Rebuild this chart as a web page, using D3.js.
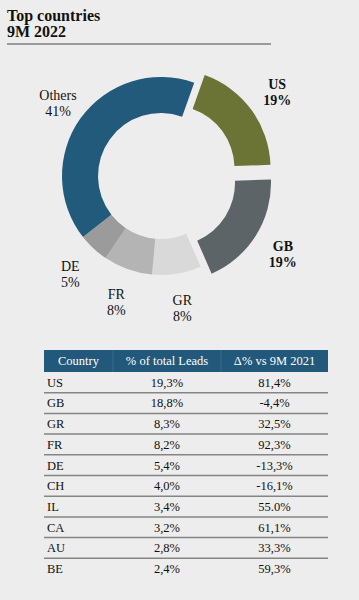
<!DOCTYPE html>
<html><head><meta charset="utf-8">
<script src="https://cdn.jsdelivr.net/npm/d3@7"></script>
<style>
html,body{margin:0;padding:0;background:#ededed;}
svg{display:block;font-family:"Liberation Serif","Times New Roman",serif;}
</style></head>
<body>
<script>
// ---- data ----
const titleLines = ["Top countries", "9M 2022"];
const sliceNames = ["US", "GB", "GR", "FR", "DE", "Others"];
const sliceValues = [19, 19, 8, 8, 5, 41];
const sliceLabels = ["19%", "19%", "8%", "8%", "5%", "41%"];
const sliceExploded = [true, true, false, false, false, false];
const sliceColors = ["#6b7335", "#5c6467", "#d9d9d9", "#b4b4b4", "#9b9b9b", "#225a7b"];

const tableHeaders = ["Country", "% of total Leads", "Δ% vs 9M 2021"];
const countries = ["US", "GB", "GR", "FR", "DE", "CH", "IL", "CA", "AU", "BE"];
const shareOfLeads = ["19,3%", "18,8%", "8,3%", "8,2%", "5,4%", "4,0%", "3,4%", "3,2%", "2,8%", "2,4%"];
const deltaVsPrev = ["81,4%", "-4,4%", "32,5%", "92,3%", "-13,3%", "-16,1%", "55.0%", "61,1%", "33,3%", "59,3%"];

// ---- layout ----
const W = 359, H = 600;
const svg = d3.select("body").append("svg").attr("width", W).attr("height", H);
svg.append("rect").attr("width", W).attr("height", H).attr("fill", "#ededed");

// Title
svg.selectAll("text.title").data(titleLines).join("text")
  .attr("class", "title")
  .attr("x", 7).attr("y", (d, i) => 21 + i * 15.5)
  .attr("font-size", 16).attr("font-weight", "bold").attr("fill", "#111")
  .text(d => d);
svg.append("line").attr("x1", 7).attr("x2", 271).attr("y1", 44).attr("y2", 44)
  .attr("stroke", "#9a9a9a").attr("stroke-width", 2);

// Donut
const cx = 161, cy = 176, rOuter = 99, rInner = 63, explode = 13, labelR = 133;
const startDeg = 19.6;
const pie = d3.pie().sort(null).value(d => d)
  .startAngle(startDeg * Math.PI / 180).endAngle((startDeg + 360) * Math.PI / 180);
const arcs = pie(sliceValues);
const arc = d3.arc().innerRadius(rInner).outerRadius(rOuter);
const g = svg.append("g").attr("transform", `translate(${cx},${cy})`);
function offset(a, r) {
  const m = (a.startAngle + a.endAngle) / 2;
  return [Math.sin(m) * r, -Math.cos(m) * r];
}
g.selectAll("path").data(arcs).join("path")
  .attr("d", arc)
  .attr("fill", (d, i) => sliceColors[i])
  .attr("transform", (d, i) => {
    const [dx, dy] = offset(d, sliceExploded[i] ? explode : 0);
    return `translate(${dx},${dy})`;
  });
const lab = g.selectAll("g.lab").data(arcs).join("g").attr("class", "lab")
  .attr("transform", (d, i) => {
    const [x, y] = offset(d, labelR + (sliceExploded[i] ? explode - 2 : 0) - (i === 5 ? 6 : 0));
    return `translate(${x},${y})`;
  });
lab.append("text").attr("text-anchor", "middle").attr("y", -2)
  .attr("font-size", 14).attr("fill", "#111")
  .attr("font-weight", (d, i) => sliceExploded[i] ? "bold" : "normal")
  .text((d, i) => sliceNames[i]);
lab.append("text").attr("text-anchor", "middle").attr("y", 14)
  .attr("font-size", 14).attr("fill", "#111")
  .attr("font-weight", (d, i) => sliceExploded[i] ? "bold" : "normal")
  .text((d, i) => sliceLabels[i]);

// Table
const tX0 = 44, tX1 = 328, headTop = 350, headH = 22, rowH = 20.7;
const colEdges = [tX0, 113, 221, tX1];
svg.append("rect").attr("x", tX0).attr("y", headTop).attr("width", tX1 - tX0).attr("height", headH)
  .attr("fill", "#22587a");
[1, 2].forEach(k => svg.append("line")
  .attr("x1", colEdges[k]).attr("x2", colEdges[k]).attr("y1", headTop).attr("y2", headTop + headH)
  .attr("stroke", "#3b6d8c").attr("stroke-width", 1));
svg.selectAll("text.hd").data(tableHeaders).join("text").attr("class", "hd")
  .attr("x", (d, i) => (colEdges[i] + colEdges[i + 1]) / 2)
  .attr("y", headTop + headH / 2).attr("dy", "0.35em")
  .attr("text-anchor", "middle").attr("font-size", 12.5).attr("fill", "#fff")
  .text(d => d);

const y = d3.scaleBand().domain(countries).range([headTop + headH, headTop + headH + rowH * countries.length]);
const rows = svg.selectAll("g.row").data(countries).join("g").attr("class", "row")
  .attr("transform", d => `translate(0,${y(d)})`);
rows.append("text").attr("x", 47).attr("y", rowH / 2).attr("dy", "0.35em")
  .attr("font-size", 12.5).attr("fill", "#111").text(d => d);
rows.append("text").attr("x", (colEdges[1] + colEdges[2]) / 2).attr("y", rowH / 2).attr("dy", "0.35em")
  .attr("text-anchor", "middle").attr("font-size", 12.5).attr("fill", "#111")
  .text((d, i) => shareOfLeads[i]);
rows.append("text").attr("x", (colEdges[2] + colEdges[3]) / 2).attr("y", rowH / 2).attr("dy", "0.35em")
  .attr("text-anchor", "middle").attr("font-size", 12.5).attr("fill", "#111")
  .text((d, i) => deltaVsPrev[i]);
rows.filter((d, i) => i < countries.length - 1).append("line")
  .attr("x1", tX0).attr("x2", tX1).attr("y1", rowH).attr("y2", rowH)
  .attr("stroke", "#858585").attr("stroke-width", 1.5);
</script>
</body></html>
